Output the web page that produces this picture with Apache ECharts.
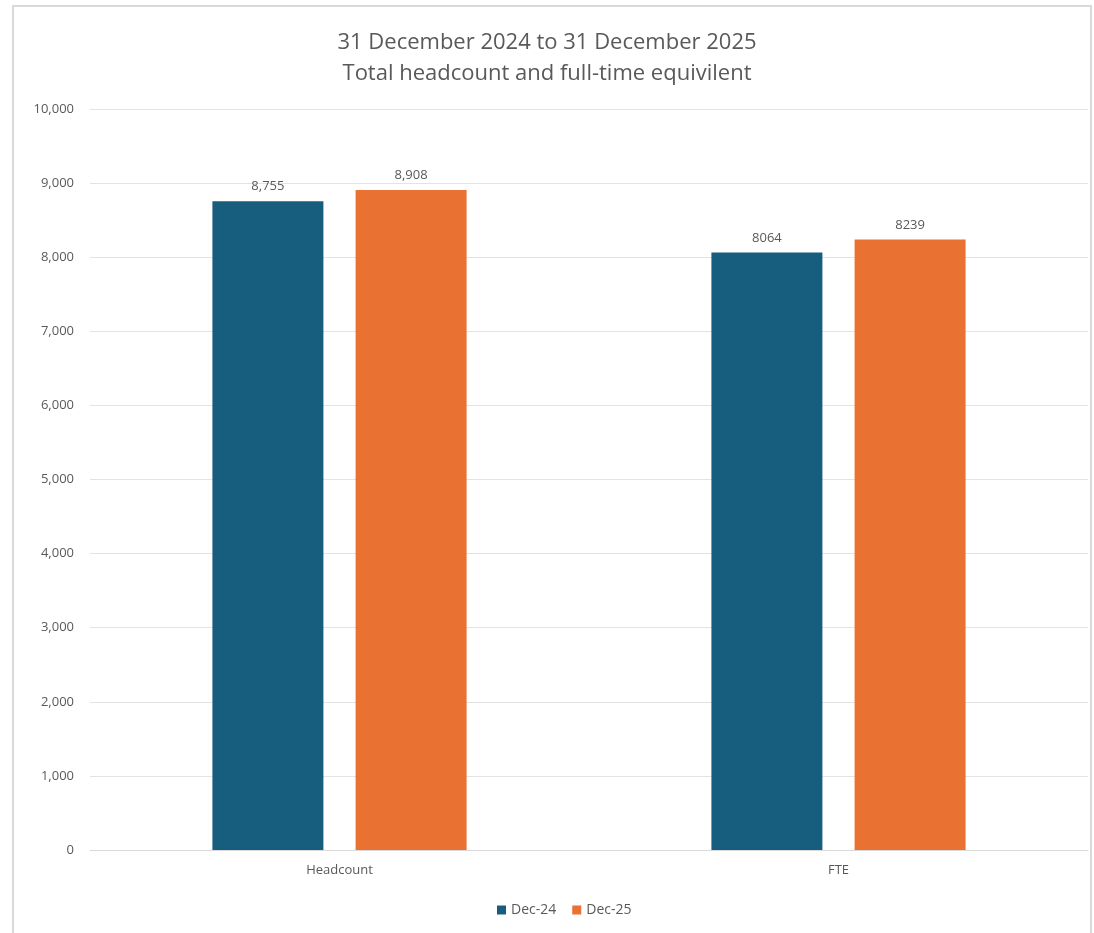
<!DOCTYPE html>
<html><head><meta charset="utf-8">
<style>html,body{margin:0;padding:0;background:#fff}#c{width:1094px;height:933px}</style>
<script src="https://cdn.jsdelivr.net/npm/echarts@6/dist/echarts.min.js"></script>
</head><body><div id="c"></div>
<script>
const categories = ['Headcount', 'FTE'];
const seriesNames = ['Dec-24', 'Dec-25'];
const dec24 = [8755, 8064];
const dec25 = [8908, 8239];
const dec24Labels = ['8,755', '8064'];
const dec25Labels = ['8,908', '8239'];
const colors = ['#175E7E', '#E97132'];

const chart = echarts.init(document.getElementById('c'));
function mkSeries(name, vals, labels, color) {
  return {
    name: name, type: 'bar', data: vals, barWidth: 111, barGap: '29%',
    itemStyle: { color: color },
    label: { show: true, position: 'top', distance: 8, color: '#595959', fontSize: 13,
      fontFamily: 'Open Sans', formatter: p => labels[p.dataIndex] }
  };
}
chart.setOption({
  animation: false,
  graphic: [{ type: 'rect', shape: { x: 13, y: 6, width: 1078, height: 940 },
    style: { fill: 'none', stroke: '#d9d9d9', lineWidth: 2 }, silent: true }],
  title: {
    text: '31 December 2024 to 31 December 2025\nTotal headcount and full-time equivilent',
    left: 'center', top: 22,
    textStyle: { color: '#595959', fontSize: 22, fontWeight: 'normal', lineHeight: 31, fontFamily: 'Open Sans' }
  },
  legend: {
    data: seriesNames, bottom: 11, left: 492, icon: 'rect', itemWidth: 9, itemHeight: 9, itemGap: 16,
    textStyle: { color: '#595959', fontSize: 14, fontFamily: 'Open Sans' }
  },
  grid: { left: 90, right: 6, top: 109, bottom: 83 },
  xAxis: {
    type: 'category', data: categories,
    axisLine: { lineStyle: { color: '#d9d9d9' } }, axisTick: { show: false },
    axisLabel: { color: '#595959', fontSize: 13, margin: 14, fontFamily: 'Open Sans' }
  },
  yAxis: {
    type: 'value', min: 0, max: 10000, interval: 1000,
    axisLabel: { color: '#595959', fontSize: 13, margin: 16, fontFamily: 'Open Sans',
      formatter: v => v.toLocaleString('en-US') },
    splitLine: { lineStyle: { color: '#e3e3e3' } }
  },
  series: [mkSeries(seriesNames[0], dec24, dec24Labels, colors[0]),
           mkSeries(seriesNames[1], dec25, dec25Labels, colors[1])]
});
</script></body></html>
